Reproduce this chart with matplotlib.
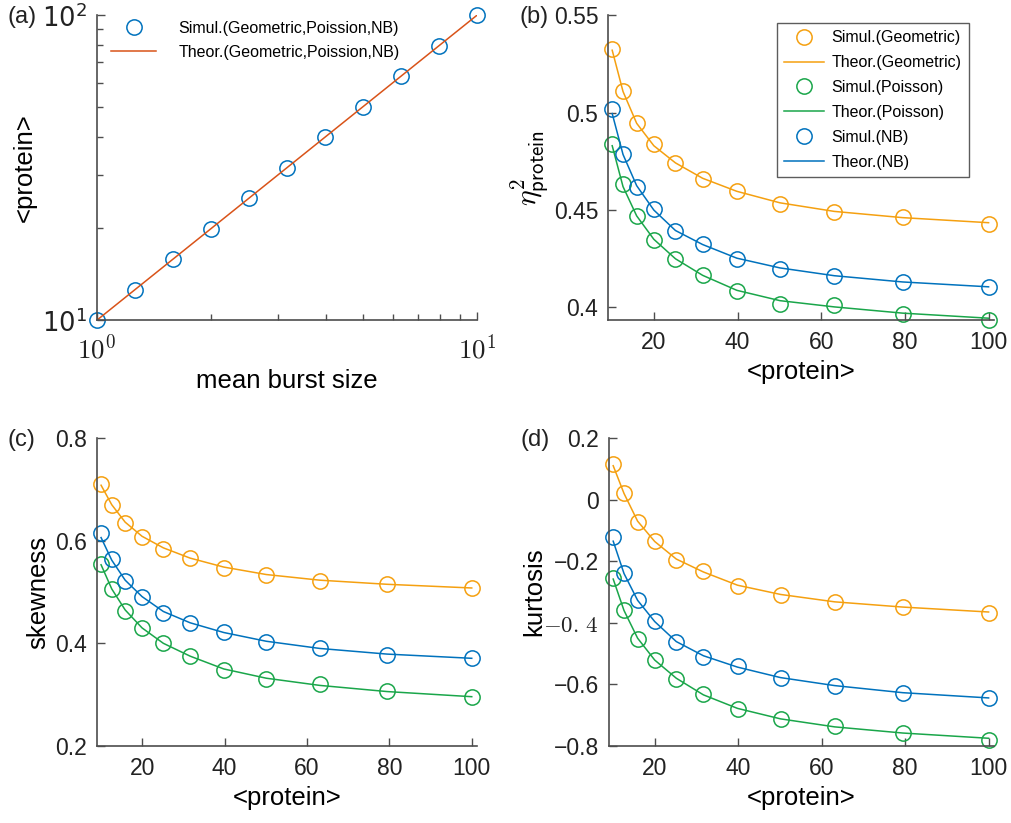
import numpy as np
import matplotlib.pyplot as plt
from matplotlib.ticker import NullFormatter

plt.rcParams['font.family'] = ['Liberation Sans', 'DejaVu Sans']

# panel (a): mean protein vs mean burst size
burst = [1.0, 1.259, 1.585, 1.995, 2.512, 3.162, 3.981, 5.012, 6.310, 7.943, 10.0]
mean_sim = [10.0, 12.59, 15.85, 19.95, 25.12, 31.62, 39.81, 50.12, 63.10, 79.43, 100.0]
mean_theo = [10.0, 12.59, 15.85, 19.95, 25.12, 31.62, 39.81, 50.12, 63.10, 79.43, 100.0]

# panels (b)-(d): x is <protein>
prot = [10.0, 12.59, 15.85, 19.95, 25.12, 31.62, 39.81, 50.12, 63.10, 79.43, 100.0]

noise_geo_sim = [0.5328, 0.5111, 0.4947, 0.4838, 0.4742, 0.4659, 0.4597, 0.4531, 0.4491, 0.4462, 0.4430]
noise_geo_theo = [0.5320, 0.5108, 0.4945, 0.4830, 0.4742, 0.4663, 0.4596, 0.4537, 0.4493, 0.4461, 0.4435]
noise_poi_sim = [0.4838, 0.4635, 0.4471, 0.4345, 0.4251, 0.4169, 0.4084, 0.4020, 0.4015, 0.3964, 0.3935]
noise_poi_theo = [0.4830, 0.4620, 0.4470, 0.4350, 0.4250, 0.4165, 0.4088, 0.4035, 0.4003, 0.3971, 0.3945]
noise_nb_sim = [0.5017, 0.4788, 0.4619, 0.4505, 0.4392, 0.4328, 0.4251, 0.4200, 0.4164, 0.4130, 0.4106]
noise_nb_theo = [0.4995, 0.4785, 0.4625, 0.4500, 0.4395, 0.4323, 0.4253, 0.4203, 0.4163, 0.4131, 0.4106]

skew_geo_sim = [0.7104, 0.6701, 0.6344, 0.6078, 0.5844, 0.5669, 0.5474, 0.5331, 0.5221, 0.5149, 0.5078]
skew_geo_theo = [0.7080, 0.6700, 0.6360, 0.6085, 0.5860, 0.5660, 0.5485, 0.5340, 0.5230, 0.5150, 0.5078]
skew_poi_sim = [0.5545, 0.5065, 0.4636, 0.4292, 0.4000, 0.3747, 0.3487, 0.3299, 0.3214, 0.3078, 0.2948]
skew_poi_theo = [0.5530, 0.5060, 0.4650, 0.4300, 0.4000, 0.3750, 0.3500, 0.3320, 0.3180, 0.3060, 0.2960]
skew_nb_sim = [0.6156, 0.5636, 0.5221, 0.4909, 0.4597, 0.4396, 0.4214, 0.4032, 0.3903, 0.3779, 0.3708]
skew_nb_theo = [0.6060, 0.5620, 0.5230, 0.4910, 0.4620, 0.4400, 0.4210, 0.4040, 0.3900, 0.3790, 0.3708]

kurt_geo_sim = [0.1156, 0.0225, -0.0716, -0.1333, -0.1961, -0.2307, -0.2805, -0.3097, -0.3335, -0.3498, -0.3671]
kurt_geo_theo = [0.1100, 0.0200, -0.0700, -0.1360, -0.1930, -0.2350, -0.2780, -0.3080, -0.3320, -0.3490, -0.3650]
kurt_poi_sim = [-0.2545, -0.3574, -0.4515, -0.5208, -0.5814, -0.6323, -0.6810, -0.7123, -0.7351, -0.7567, -0.7816]
kurt_poi_theo = [-0.2580, -0.3600, -0.4500, -0.5210, -0.5800, -0.6340, -0.6780, -0.7120, -0.7380, -0.7580, -0.7750]
kurt_nb_sim = [-0.1203, -0.2372, -0.3260, -0.3952, -0.4613, -0.5110, -0.5403, -0.5781, -0.6041, -0.6268, -0.6442]
kurt_nb_theo = [-0.1350, -0.2400, -0.3270, -0.3960, -0.4610, -0.5070, -0.5440, -0.5780, -0.6040, -0.6270, -0.6440]

BLUE = '#0072BD'
RED = '#D95319'
ORANGE = '#F5A010'
GREEN = '#1AA64A'
AXC = '#4d4d4d'

TICK_FS = 16.5
LAB_FS = 18.5
MS = 11


def style(ax):
    for s in ['top', 'right']:
        ax.spines[s].set_visible(False)
    for s in ['left', 'bottom']:
        ax.spines[s].set_color(AXC)
        ax.spines[s].set_linewidth(1.2)
    ax.tick_params(which='both', direction='in', colors=AXC, labelcolor='#222222',
                   labelsize=TICK_FS, width=1.0)
    ax.tick_params(which='major', length=6)
    ax.tick_params(which='minor', length=4)
    ax.tick_params(axis='y', pad=7)
    ax.tick_params(axis='x', pad=8)


def curves(ax, sims, theos, colors, labels):
    for sim, theo, c, name in zip(sims, theos, colors, labels):
        ax.plot(prot, sim, 'o', mfc='none', mec=c, ms=MS, mew=1.1,
                label='Simul.(%s)' % name, clip_on=False)
        ax.plot(prot, theo, '-', color=c, lw=1.1, label='Theor.(%s)' % name,
                clip_on=False)


fig = plt.figure(figsize=(10.11, 8.23), dpi=100)
ax_a = fig.add_axes([0.0959, 0.611, 0.376, 0.3706])
ax_b = fig.add_axes([0.6014, 0.611, 0.3818, 0.3706])
ax_c = fig.add_axes([0.0959, 0.0936, 0.376, 0.3742])
ax_d = fig.add_axes([0.6024, 0.0936, 0.3808, 0.3742])

# (a)
ax_a.plot(burst, mean_sim, 'o', mfc='none', mec=BLUE, ms=MS, mew=1.1,
          label='Simul.(Geometric,Poission,NB)', clip_on=False)
ax_a.plot(burst, mean_theo, '-', color=RED, lw=1.1,
          label='Theor.(Geometric,Poission,NB)')
ax_a.set_xscale('log')
ax_a.set_yscale('log')
ax_a.set_xlim(1, 10)
ax_a.set_ylim(10, 100)
style(ax_a)
ax_a.xaxis.set_minor_formatter(NullFormatter())
ax_a.yaxis.set_minor_formatter(NullFormatter())
ax_a.set_xticks([1, 10])
ax_a.set_xticklabels([r'$10^0$', r'$10^1$'])
for t in ax_a.get_xticklabels():
    t.set_math_fontfamily('cm')
    t.set_fontsize(TICK_FS + 3)
ax_a.set_yticks([10, 100])
ax_a.set_yticklabels([r'$10^1$', r'$10^2$'])
for t in ax_a.get_yticklabels():
    t.set_math_fontfamily('dejavusans')
    t.set_fontsize(TICK_FS + 2)
ax_a.tick_params(axis='x', which='major', pad=10)
ax_a.set_xlabel('mean burst size', fontsize=LAB_FS, labelpad=4)
ax_a.set_ylabel('<protein>', fontsize=LAB_FS, labelpad=4)
ax_a.legend(loc='upper left', bbox_to_anchor=(0.0, 1.028), frameon=False,
            fontsize=11.5, handlelength=2.8, handletextpad=1.4, labelspacing=0.55)

# (b)
curves(ax_b, [noise_geo_sim, noise_poi_sim, noise_nb_sim],
       [noise_geo_theo, noise_poi_theo, noise_nb_theo],
       [ORANGE, GREEN, BLUE], ['Geometric', 'Poisson', 'NB'])
ax_b.set_xlim(9, 101.3)
ax_b.set_ylim(0.3935, 0.55)
style(ax_b)
ax_b.set_xticks([20, 40, 60, 80, 100])
ax_b.set_yticks([0.4, 0.45, 0.5, 0.55])
ax_b.set_yticklabels(['0.4', '0.45', '0.5', '0.55'])
ax_b.set_xlabel('<protein>', fontsize=LAB_FS)
ax_b.set_ylabel(r'$\eta^{\mathsf{2}}_{\mathsf{protein}}$', fontsize=LAB_FS + 3,
                math_fontfamily='cm', labelpad=2)
leg = ax_b.legend(loc='upper right', bbox_to_anchor=(0.935, 0.974), fontsize=11.5,
                  handlelength=2.5, handletextpad=0.5, labelspacing=0.62,
                  fancybox=False, edgecolor='#333333', borderpad=0.45,
                  borderaxespad=0)
leg.get_frame().set_linewidth(1.0)

# (c)
curves(ax_c, [skew_geo_sim, skew_poi_sim, skew_nb_sim],
       [skew_geo_theo, skew_poi_theo, skew_nb_theo],
       [ORANGE, GREEN, BLUE], ['Geometric', 'Poisson', 'NB'])
ax_c.set_xlim(9, 101.3)
ax_c.set_ylim(0.2, 0.8)
style(ax_c)
ax_c.set_xticks([20, 40, 60, 80, 100])
ax_c.set_yticks([0.2, 0.4, 0.6, 0.8])
ax_c.set_xlabel('<protein>', fontsize=LAB_FS)
ax_c.set_ylabel('skewness', fontsize=LAB_FS)

# (d)
curves(ax_d, [kurt_geo_sim, kurt_poi_sim, kurt_nb_sim],
       [kurt_geo_theo, kurt_poi_theo, kurt_nb_theo],
       [ORANGE, GREEN, BLUE], ['Geometric', 'Poisson', 'NB'])
ax_d.set_xlim(9, 101.3)
ax_d.set_ylim(-0.8, 0.2)
style(ax_d)
ax_d.set_xticks([20, 40, 60, 80, 100])
ax_d.set_yticks([-0.8, -0.6, -0.4, -0.2, 0, 0.2])
ax_d.set_yticklabels(['\u22120.8', '\u22120.6', r'$-0.\,4$', '\u22120.2', '0', '0.2'])
ax_d.get_yticklabels()[2].set_math_fontfamily('cm')
ax_d.set_xlabel('<protein>', fontsize=LAB_FS)
ax_d.set_ylabel('kurtosis', fontsize=LAB_FS, labelpad=-2)

for ax, tag in zip([ax_a, ax_b, ax_c, ax_d], ['(a)', '(b)', '(c)', '(d)']):
    pos = ax.get_position()
    fig.text(pos.x0 - 0.088, pos.y1 - 0.002, tag, fontsize=17, color='#222222',
             ha='left', va='center')

fig.savefig('out.png', dpi=100)
